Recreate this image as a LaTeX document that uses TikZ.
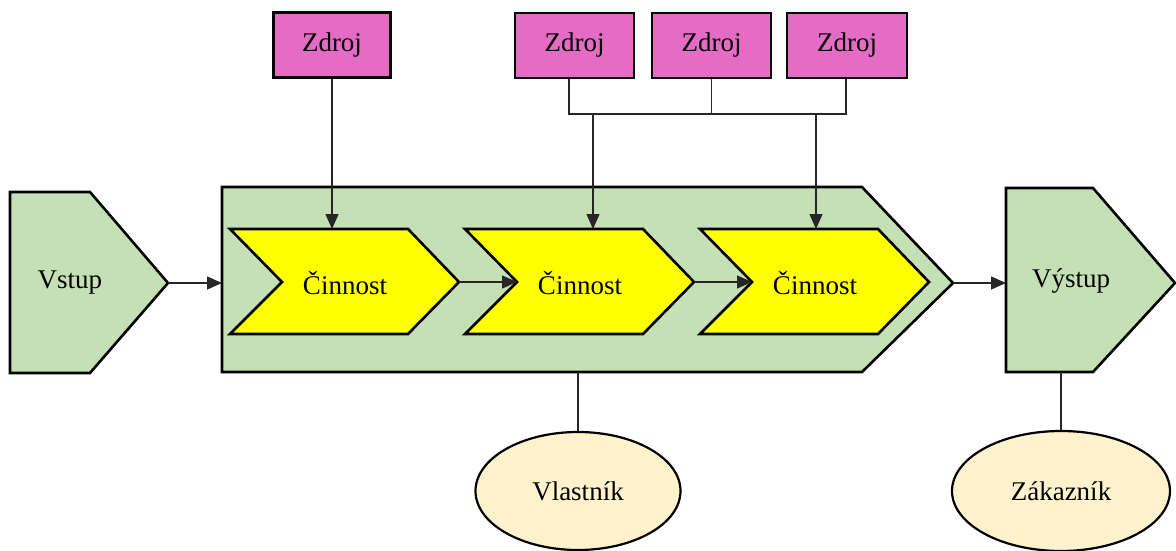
\documentclass[tikz,border=0pt]{standalone}
\usepackage{fontspec}
\setmainfont{Liberation Serif}
\usetikzlibrary{shapes.geometric,arrows.meta,calc}
\definecolor{procgreen}{RGB}{197,224,180}
\definecolor{actyellow}{RGB}{255,255,0}
\definecolor{srcpink}{RGB}{228,108,196}
\definecolor{ellfill}{RGB}{255,242,204}
\tikzset{
  shapeline/.style={draw=black, line width=2.6pt, line join=miter},
  greenshape/.style={shapeline, fill=procgreen},
  chevshape/.style={shapeline, fill=actyellow},
  lbl/.style={font=\fontsize{27}{30}\selectfont, inner sep=0pt},
  srcbox/.style={draw=black, line width=2.6pt, fill=srcpink, minimum width=117pt, minimum height=65pt, inner sep=0pt, font=\fontsize{27}{30}\selectfont},
  ellnode/.style={ellipse, draw=black, line width=2.2pt, fill=ellfill, inner sep=0pt, font=\fontsize{27}{30}\selectfont},
  conn/.style={draw=black!85, line width=1.3pt},
  arr/.style={conn, -{Triangle[length=15pt,width=13pt]}},
}
\begin{document}
\begin{tikzpicture}[x=1pt, y=-1pt]
\useasboundingbox (0,0) rectangle (1176,551);
% Vstup
\path[greenshape] (10,192) -- (90,192) -- (168,283) -- (90,373) -- (10,373) -- cycle;
\node[lbl] (vstup) at (70,283) {Vstup};
\coordinate (vstuptip) at (168,283);
% big process
\path[greenshape] (222,187) -- (862,187) -- (953,283) -- (862,372) -- (222,372) -- cycle;
\coordinate (procleft) at (222,283);
\coordinate (proctip) at (953,283);
\coordinate (procbottom) at (578,372);
% chevrons
\foreach \i/\dx in {1/0, 2/235, 3/470} {
  \path[chevshape] (230+\dx,229) -- (408+\dx,229) -- (459+\dx,282) -- (408+\dx,334) -- (230+\dx,334) -- (282+\dx,282) -- cycle;
  \node[lbl] (act\i) at (345+\dx,283) {Činnost};
  \coordinate (act\i tip) at (459+\dx,282);
  \coordinate (act\i notch) at (282+\dx,282);
}
\coordinate (act2top) at (593,229);
\coordinate (act3top) at (816,229);
% Vystup
\path[greenshape] (1006,188) -- (1093,188) -- (1175,283) -- (1093,372) -- (1006,372) -- cycle;
\node[lbl] (vystup) at (1071,281) {Výstup};
\coordinate (vystupleft) at (1006,283);
\coordinate (vystupbottom) at (1061,372);
% sources
\node[srcbox] (z1) at (332,45) {Zdroj};
\node[srcbox, minimum width=119pt] (z2) at (574.5,45.5) {Zdroj};
\node[srcbox, minimum width=119pt] (z3) at (711.5,45.5) {Zdroj};
\node[srcbox, minimum width=120pt] (z4) at (847,45.5) {Zdroj};
\coordinate (busL) at (569,114);
\coordinate (busM) at (711.5,114);
\coordinate (busR) at (846,114);
\coordinate (drop2) at (593,114);
\coordinate (drop3) at (816,114);
% ellipses
\node[ellnode, minimum width=205pt, minimum height=118pt] (owner) at (578,491) {Vlastník};
\node[ellnode, minimum width=218pt, minimum height=120pt] (cust) at (1061,491) {Zákazník};
% connectors
\draw[arr] (vstuptip) -- (procleft);
\draw[arr] (act1tip) -- (act2notch);
\draw[arr] (act2tip) -- (act3notch);
\draw[arr] (proctip) -- (vystupleft);
\draw[arr] (z1.south) -- (z1.south |- act2top);
\draw[conn] (z2.south -| busL) -- (busL) -- (busR) -- (z4.south -| busR);
\draw[conn] (z3.south) -- (busM);
\draw[arr] (drop2) -- (act2top);
\draw[arr] (drop3) -- (act3top);
\draw[conn] (procbottom) -- (owner.north);
\draw[conn] (vystupbottom) -- (cust.north);
\end{tikzpicture}
\end{document}
